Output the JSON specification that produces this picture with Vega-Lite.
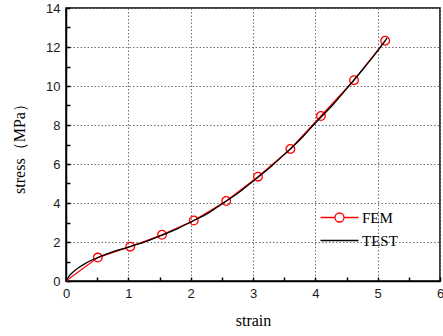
{
  "$schema": "https://vega.github.io/schema/vega-lite/v6.json",
  "width": 374,
  "height": 273,
  "autosize": {"type": "none"},
  "padding": {"left": 66, "top": 8, "right": 3, "bottom": 55},
  "background": "white",
  "config": {
    "view": {"stroke": "#000", "strokeWidth": 1.5},
    "axis": {
      "domainColor": "#000",
      "domainWidth": 1.5,
      "tickColor": "#000",
      "tickSize": -4,
      "tickWidth": 1.5,
      "gridColor": "#6e6e6e",
      "gridDash": [1.5, 2],
      "gridWidth": 1,
      "labelFont": "Liberation Sans",
      "labelFontSize": 13,
      "labelColor": "#1a1a1a",
      "titleFont": "Liberation Serif",
      "titleFontSize": 16,
      "titleFontWeight": "normal",
      "titleColor": "#000"
    }
  },
  "data": {
    "values": [
      {"strain": 0, "stress": 0, "series": "FEM"},
      {"strain": 0.51, "stress": 1.2, "series": "FEM"},
      {"strain": 1.03, "stress": 1.76, "series": "FEM"},
      {"strain": 1.54, "stress": 2.37, "series": "FEM"},
      {"strain": 2.05, "stress": 3.1, "series": "FEM"},
      {"strain": 2.57, "stress": 4.1, "series": "FEM"},
      {"strain": 3.08, "stress": 5.35, "series": "FEM"},
      {"strain": 3.6, "stress": 6.77, "series": "FEM"},
      {"strain": 4.09, "stress": 8.46, "series": "FEM"},
      {"strain": 4.62, "stress": 10.3, "series": "FEM"},
      {"strain": 5.12, "stress": 12.32, "series": "FEM"},
      {"strain": 0, "stress": 0, "series": "TEST"},
      {"strain": 0.05, "stress": 0.25, "series": "TEST"},
      {"strain": 0.1, "stress": 0.42, "series": "TEST"},
      {"strain": 0.2, "stress": 0.68, "series": "TEST"},
      {"strain": 0.3, "stress": 0.88, "series": "TEST"},
      {"strain": 0.4, "stress": 1.05, "series": "TEST"},
      {"strain": 0.5, "stress": 1.19, "series": "TEST"},
      {"strain": 0.7, "stress": 1.44, "series": "TEST"},
      {"strain": 1.0, "stress": 1.74, "series": "TEST"},
      {"strain": 1.3, "stress": 2.05, "series": "TEST"},
      {"strain": 1.5, "stress": 2.3, "series": "TEST"},
      {"strain": 1.8, "stress": 2.7, "series": "TEST"},
      {"strain": 2.0, "stress": 3.02, "series": "TEST"},
      {"strain": 2.3, "stress": 3.52, "series": "TEST"},
      {"strain": 2.5, "stress": 3.95, "series": "TEST"},
      {"strain": 2.8, "stress": 4.6, "series": "TEST"},
      {"strain": 3.0, "stress": 5.12, "series": "TEST"},
      {"strain": 3.3, "stress": 5.9, "series": "TEST"},
      {"strain": 3.5, "stress": 6.48, "series": "TEST"},
      {"strain": 3.8, "stress": 7.4, "series": "TEST"},
      {"strain": 4.0, "stress": 8.1, "series": "TEST"},
      {"strain": 4.3, "stress": 9.1, "series": "TEST"},
      {"strain": 4.5, "stress": 9.85, "series": "TEST"},
      {"strain": 4.8, "stress": 11.0, "series": "TEST"},
      {"strain": 5.0, "stress": 11.8, "series": "TEST"},
      {"strain": 5.15, "stress": 12.45, "series": "TEST"}
    ]
  },
  "encoding": {
    "x": {
      "field": "strain",
      "type": "quantitative",
      "scale": {"domain": [0, 6], "nice": false},
      "axis": {
        "title": "strain",
        "values": [0, 0.5, 1, 1.5, 2, 2.5, 3, 3.5, 4, 4.5, 5, 5.5, 6],
        "labelExpr": "datum.value % 1 == 0 ? format(datum.value, 'd') : ''",
        "gridOpacity": {"condition": {"test": "datum.value % 1 != 0", "value": 0}, "value": 1},
        "labelPadding": 10,
        "labelFlush": false,
        "labelOverlap": false,
        "titlePadding": 12
      }
    },
    "y": {
      "field": "stress",
      "type": "quantitative",
      "scale": {"domain": [0, 14], "nice": false},
      "axis": {
        "title": "stress（MPa）",
        "values": [0, 1, 2, 3, 4, 5, 6, 7, 8, 9, 10, 11, 12, 13, 14],
        "labelExpr": "datum.value % 2 == 0 ? format(datum.value, 'd') : ''",
        "gridOpacity": {"condition": {"test": "datum.value % 2 != 0", "value": 0}, "value": 1},
        "labelPadding": 10,
        "labelFlush": false,
        "labelOverlap": false,
        "titlePadding": 18
      }
    }
  },
  "layer": [
    {
      "transform": [{"filter": "datum.series == 'FEM'"}],
      "mark": {"type": "line", "strokeWidth": 1.2},
      "encoding": {
        "color": {
          "field": "series",
          "type": "nominal",
          "scale": {"domain": ["FEM", "TEST"], "range": ["#ff0000", "#000000"]},
          "legend": {
            "title": null,
            "orient": "none",
            "legendX": 266,
            "legendY": 202,
            "padding": 0,
            "symbolSize": 90,
            "symbolStrokeWidth": 1.3,
            "labelOffset": 15,
            "rowPadding": 7,
            "labelFont": "Liberation Serif",
            "labelFontSize": 15,
            "labelColor": "#000",
            "encode": {
              "symbols": {
                "update": {
                  "shape": [
                    {"test": "datum.value === 'FEM'", "value": "M-4,0H-0.95M0.95,0H4M0.95,0A0.95,0.95 0 1,1 -0.95,0A0.95,0.95 0 1,1 0.95,0Z"},
                    {"value": "M-4,0H4"}
                  ],
                  "fill": {"value": "transparent"},
                  "strokeWidth": {"value": 1.3}
                }
              }
            }
          }
        }
      }
    },
    {
      "transform": [{"filter": "datum.series == 'FEM' && datum.strain > 0"}],
      "mark": {"type": "point", "shape": "circle", "filled": false, "color": "#ff0000", "size": 75, "strokeWidth": 1.3, "opacity": 1}
    },
    {
      "transform": [{"filter": "datum.series == 'TEST'"}],
      "mark": {"type": "line", "strokeWidth": 1.3, "interpolate": "monotone"},
      "encoding": {
        "color": {"field": "series", "type": "nominal"}
      }
    }
  ]
}
